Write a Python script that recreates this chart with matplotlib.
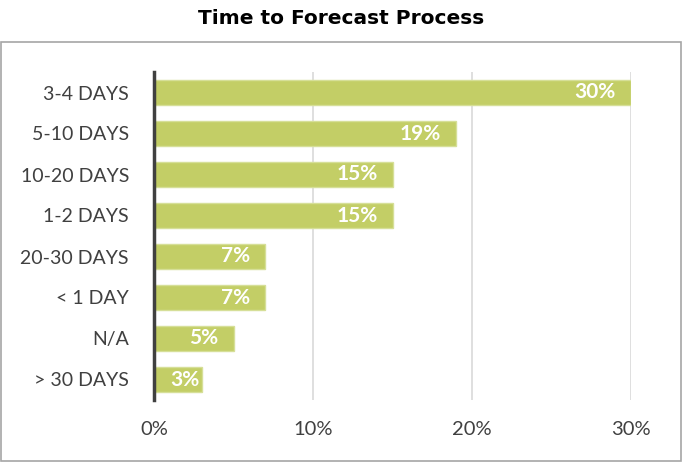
import matplotlib
matplotlib.use("Agg")
import matplotlib.pyplot as plt
from matplotlib.patches import Rectangle

categories = ["3-4 DAYS", "5-10 DAYS", "10-20 DAYS", "1-2 DAYS", "20-30 DAYS", "< 1 DAY", "N/A", "> 30 DAYS"]
values = [30, 19, 15, 15, 7, 7, 5, 3]
xticks = [0, 10, 20, 30]
xtick_labels = ["0%", "10%", "20%", "30%"]
title = "Time to Forecast Process"

bar_color = "#C3CE66"
edge_color = "#D6DF98"

fig = plt.figure(figsize=(6.82, 4.62), dpi=100)
# outer chart box
fig.patches.append(Rectangle((1/682, 1/462), 680/682, 419/462, transform=fig.transFigure,
                             fill=False, edgecolor="#A6A6A6", linewidth=1.2))
fig.text(0.5, 1 - 18/462, title, ha="center", va="center", fontsize=14.5,
         fontweight="bold", family=["DejaVu Sans"], color="black")

ax = fig.add_axes([154/682, 1 - 400/462, (631 - 154)/682, (400 - 72)/462])
y = list(range(len(categories)))
ax.barh(y, values, height=0.59, color=bar_color, edgecolor=edge_color, linewidth=1.0, zorder=3)
ax.set_ylim(len(categories) - 0.5, -0.5)
ax.set_xlim(0, 30)
ax.set_yticks(y)
ax.set_yticklabels(categories, family=["Lato", "DejaVu Sans"], fontsize=14, color="#404040")
ax.set_xticks(xticks)
ax.set_xticklabels(xtick_labels, family=["Lato", "DejaVu Sans"], fontsize=14.5, color="#404040")
ax.tick_params(axis="y", length=0, pad=18)
ax.tick_params(axis="x", length=0, pad=15)
ax.grid(axis="x", color="#D9D9D9", linewidth=1.2, zorder=0)
for s in ["top", "right", "bottom"]:
    ax.spines[s].set_visible(False)
ax.spines["left"].set_color("#404040")
ax.spines["left"].set_linewidth(2.5)
ax.spines["left"].set_zorder(4)

for yi, v in zip(y, values):
    if v >= 4:
        ax.text(v - 0.95, yi, f"{v}%", ha="right", va="center", color="white",
                fontsize=15, fontweight="bold", family=["Lato", "DejaVu Sans"], zorder=5)
    else:
        ax.text(1.0, yi, f"{v}%", ha="left", va="center", color="white",
                fontsize=15, fontweight="bold", family=["Lato", "DejaVu Sans"], zorder=5)

fig.savefig("out.png", dpi=100)
